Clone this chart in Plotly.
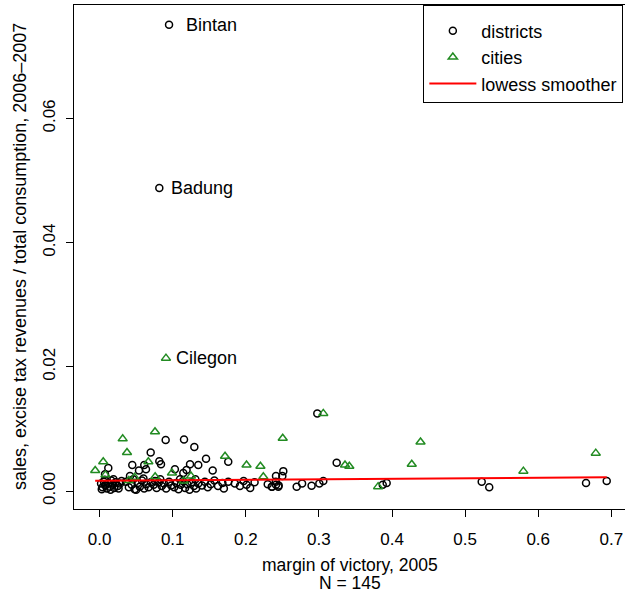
import plotly.graph_objects as go

# ---- data ----
districts_x = [
    0.095, 0.0817, 0.2978, 0.3243, 0.2513, 0.2413, 0.2500, 0.2413, 0.2355, 0.2445,
    0.2696, 0.2770, 0.2900, 0.3006, 0.3060, 0.3873, 0.3927, 0.5227, 0.5330, 0.6654, 0.6937,
    0.0904, 0.1155, 0.1296, 0.0699, 0.1456, 0.1760, 0.0817, 0.0840, 0.0447, 0.0611,
    0.1237, 0.1350, 0.0119, 0.0539, 0.0635, 0.1030, 0.1190, 0.1547, 0.1145, 0.0074,
    0.0416, 0.0758,
    0.002, 0.004, 0.006, 0.008, 0.010, 0.012, 0.014, 0.016, 0.018, 0.020,
    0.022, 0.025, 0.028, 0.003, 0.015,
    0.036, 0.040, 0.044, 0.048, 0.052, 0.055, 0.058, 0.061, 0.064, 0.067, 0.070, 0.050,
    0.074, 0.078, 0.081, 0.085, 0.088, 0.091, 0.095, 0.098,
    0.102, 0.105, 0.108, 0.111, 0.114, 0.117, 0.120, 0.123, 0.126, 0.129, 0.132, 0.135,
    0.140, 0.144, 0.148, 0.152, 0.157, 0.162, 0.168,
    0.185, 0.192, 0.197, 0.201, 0.206, 0.212, 0.230, 0.236, 0.241, 0.245,
    0.007, 0.019, 0.026, 0.030,
    0.060, 0.083, 0.110, 0.131, 0.046, 0.170, 0.176,
]
districts_y = [
    0.0751, 0.0488, 0.0125, 0.00456, 0.0032, 0.0024, 0.0024, 0.0010, 0.0007, 0.0007,
    0.0007, 0.0012, 0.00086, 0.0012, 0.0016, 0.0010, 0.0013, 0.0015, 0.0006, 0.0013, 0.0016,
    0.0082, 0.0083, 0.0071, 0.0062, 0.0052, 0.0047, 0.0048, 0.0043, 0.0042, 0.0042,
    0.0043, 0.0042, 0.0037, 0.0033, 0.0035, 0.0035, 0.0034, 0.0033, 0.0029, 0.0027,
    0.0024, 0.0016,
    0.0012, 0.0006, 0.0015, 0.0009, 0.0004, 0.0013, 0.0007, 0.0017, 0.0010, 0.0005,
    0.0014, 0.0008, 0.0012, 0.0003, 0.0002,
    0.0015, 0.0006, 0.0010, 0.0003, 0.0013, 0.0007, 0.0017, 0.0004, 0.0011, 0.0006, 0.0014, 0.0002,
    0.0010, 0.0005, 0.0014, 0.0008, 0.0012, 0.0004, 0.0015, 0.0009,
    0.0006, 0.0013, 0.0003, 0.0010, 0.0016, 0.0005, 0.0011, 0.0002, 0.0014, 0.0008, 0.0004, 0.0012,
    0.0009, 0.0015, 0.0006, 0.0011, 0.0017, 0.0008, 0.0013,
    0.0012, 0.0008, 0.0016, 0.0010, 0.0005, 0.0014, 0.0011, 0.0007, 0.0015, 0.0009,
    0.0018, 0.0019, 0.0004, 0.0016,
    0.0020, 0.0019, 0.0019, 0.0019, 0.0019, 0.0004, 0.0015,
]

cities_x = [-0.006, 0.005, 0.0316, 0.0375, 0.0758, 0.0667, 0.008, 0.048, 0.076,
            0.099, 0.125, 0.1716, 0.201, 0.220, 0.224, 0.2505, 0.306, 0.3357,
            0.3416, 0.427, 0.439, 0.381, 0.5797, 0.6787, 0.0908, 0.040, 0.115]
cities_y = [0.0033, 0.0047, 0.0084, 0.0062, 0.00955, 0.0047, 0.0026, 0.0022, 0.0023,
            0.0029, 0.0024, 0.0056, 0.0042, 0.0040, 0.0023, 0.0085, 0.0125, 0.0042,
            0.0040, 0.0043, 0.0079, 0.0007, 0.0032, 0.0061, 0.0214, 0.0017, 0.0016]

lowess_x = [-0.006, 0.1, 0.2, 0.3, 0.4, 0.5, 0.6, 0.6937]
lowess_y = [0.00165, 0.00172, 0.0018, 0.0019, 0.0020, 0.0021, 0.00215, 0.0022]

label_names = ["Bintan", "Badung", "Cilegon"]
label_x = [0.095, 0.0817, 0.0908]
label_y = [0.0751, 0.0488, 0.0214]
label_shift = [15, 10, 8]

x_ticks = [0.0, 0.1, 0.2, 0.3, 0.4, 0.5, 0.6, 0.7]
x_ticklabels = ["0.0", "0.1", "0.2", "0.3", "0.4", "0.5", "0.6", "0.7"]
y_ticks = [0.00, 0.02, 0.04, 0.06]
y_ticklabels = ["0.00", "0.02", "0.04", "0.06"]

FONT = "Liberation Sans, Arial, Helvetica, sans-serif"
GREEN = "#228B22"

fig = go.Figure()
fig.add_trace(go.Scatter(
    x=districts_x, y=districts_y, mode="markers", name="districts",
    marker=dict(symbol="circle-open", size=7, color="black", line=dict(width=1.5, color="black")),
))
fig.add_trace(go.Scatter(
    x=cities_x, y=cities_y, mode="markers", name="cities",
    marker=dict(symbol="triangle-up-open", size=8, color=GREEN, line=dict(width=1.5, color=GREEN)),
))
fig.add_trace(go.Scatter(
    x=lowess_x, y=lowess_y, mode="lines", name="lowess smoother",
    line=dict(color="red", width=2),
))

for n, lx, ly, sh in zip(label_names, label_x, label_y, label_shift):
    fig.add_annotation(x=lx, y=ly, text=n, showarrow=False, xanchor="left",
                       yanchor="middle", xshift=sh, font=dict(size=18, color="black", family=FONT))

fig.add_annotation(x=0, xref="paper", y=0.5, yref="paper", xshift=-54, textangle=-90,
                   text="sales, excise tax revenues / total consumption, 2006\u20132007",
                   showarrow=False, xanchor="center", yanchor="middle",
                   font=dict(size=18, color="black", family=FONT))
fig.add_annotation(x=0.5, xref="paper", y=0, yref="paper", yshift=-56,
                   text="margin of victory, 2005", showarrow=False,
                   xanchor="center", yanchor="middle", font=dict(size=17.5, color="black", family=FONT))
fig.add_annotation(x=0.5, xref="paper", y=0, yref="paper", yshift=-74,
                   text="N = 145", showarrow=False,
                   xanchor="center", yanchor="middle", font=dict(size=17.5, color="black", family=FONT))

fig.update_layout(
    width=625, height=590,
    margin=dict(l=74, r=0, t=5, b=81),
    paper_bgcolor="white", plot_bgcolor="white",
    font=dict(family=FONT, size=17, color="black"),
    showlegend=True,
    legend=dict(x=0.997, y=1, xanchor="right", yanchor="top",
                bordercolor="black", borderwidth=1, bgcolor="white",
                font=dict(size=18, family=FONT), tracegroupgap=0,
                title=dict(text=" ", font=dict(size=5)),
                itemwidth=47),
)
fig.update_xaxes(range=[-0.035, 0.7187], tickvals=x_ticks, ticktext=x_ticklabels,
                 showgrid=False, zeroline=False, showline=True, mirror=True,
                 linecolor="black", linewidth=1, ticks="outside", ticklen=7,
                 tickcolor="black", ticklabelstandoff=8)
fig.update_yaxes(range=[-0.0029, 0.07829], tickvals=y_ticks, ticktext=y_ticklabels,
                 showgrid=False, zeroline=False, showline=True, mirror=False,
                 linecolor="black", linewidth=1, ticks="outside", ticklen=7,
                 tickcolor="black", tickangle=-90, ticklabelstandoff=4)

fig.write_html("out.html", config={"displayModeBar": False},
               post_script="document.body.style.margin='0px';document.body.style.overflow='hidden';")
